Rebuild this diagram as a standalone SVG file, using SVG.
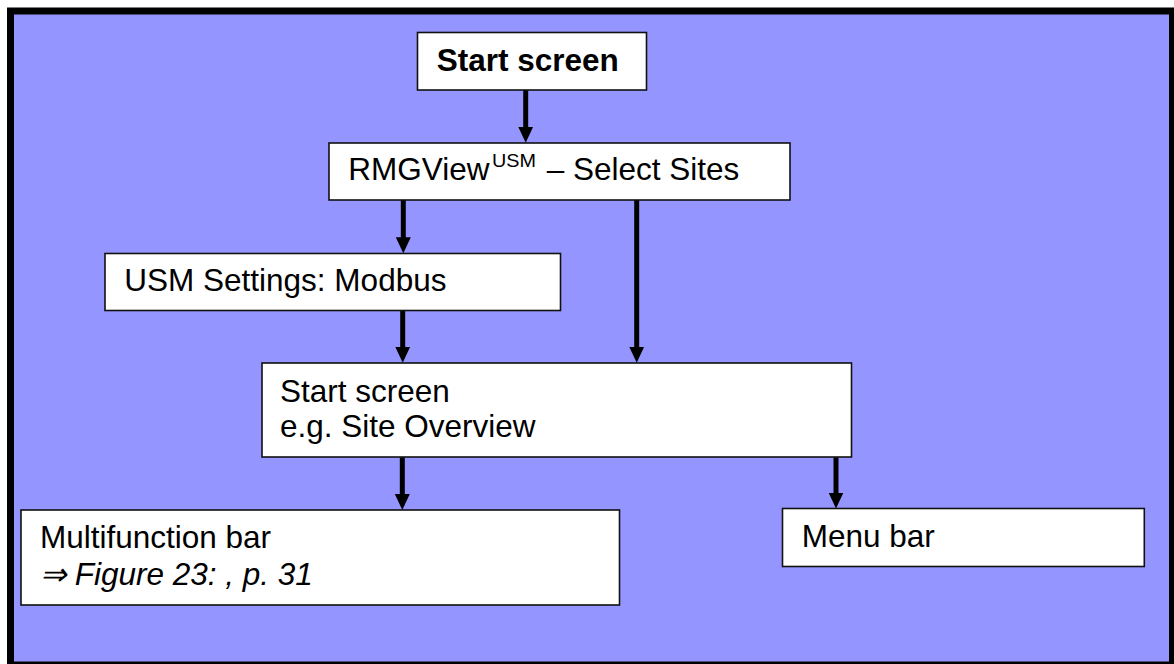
<svg xmlns="http://www.w3.org/2000/svg" width="1174" height="664" viewBox="0 0 1174 664">
  <style>
    .box { fill: #ffffff; stroke: #111111; stroke-width: 1.6; }
    .t { font-family: "Liberation Sans", Arial, sans-serif; font-size: 31.5px; fill: #000000; }
    .b { font-weight: bold; }
    .i { font-style: italic; }
    .c { stroke: #000000; stroke-width: 5; fill: none; marker-end: url(#ah); }
  </style>
  <defs>
    <marker id="ah" markerUnits="userSpaceOnUse" markerWidth="16" markerHeight="16" refX="6" refY="8" orient="auto" viewBox="0 0 16 16">
      <path d="M0,0.5 L16,8 L0,15.5 z" fill="#000000"/>
    </marker>
  </defs>
  <rect x="0" y="0" width="1174" height="664" fill="#ffffff"/>
  <rect id="frame" x="10.5" y="11" width="1162" height="654" fill="#9595FF" stroke="#000000" stroke-width="7"/>

  <g id="connectors">
    <line class="c" x1="525.7" y1="90" x2="525.7" y2="132.7"/>
    <line class="c" x1="403.3" y1="200" x2="403.3" y2="243.3"/>
    <line class="c" x1="636.7" y1="200" x2="636.7" y2="352.7"/>
    <line class="c" x1="402.7" y1="310.7" x2="402.7" y2="352.7"/>
    <line class="c" x1="402.3" y1="457.3" x2="402.3" y2="500"/>
    <line class="c" x1="836" y1="457.3" x2="836" y2="498.5"/>
  </g>

  <g id="node-start">
    <rect class="box" x="417.5" y="32.5" width="229" height="57.5"/>
    <text class="t b" x="436.7" y="70.7">Start screen</text>
  </g>

  <g id="node-rmgview">
    <rect class="box" x="329" y="143" width="461" height="57"/>
    <text class="t" x="348.3" y="180">RMGView<tspan x="492" y="167" font-size="18" textLength="44" lengthAdjust="spacingAndGlyphs">USM</tspan><tspan x="546.7" y="180">– Select Sites</tspan></text>
  </g>

  <g id="node-usm">
    <rect class="box" x="105" y="253.5" width="455.5" height="57"/>
    <text class="t" x="124.3" y="290.7">USM Settings: Modbus</text>
  </g>

  <g id="node-overview">
    <rect class="box" x="262" y="363" width="589.5" height="94"/>
    <text class="t" x="280" y="401.7">Start screen</text>
    <text class="t" x="280" y="437.3">e.g. Site Overview</text>
  </g>

  <g id="node-multifunction">
    <rect class="box" x="21" y="510" width="598.5" height="95"/>
    <text class="t" x="40" y="548.3">Multifunction bar</text>
    <text class="t i" x="40" y="585">⇒ Figure 23: , p. 31</text>
  </g>

  <g id="node-menu">
    <rect class="box" x="782.5" y="508.5" width="361.8" height="58"/>
    <text class="t" x="801.7" y="546.7">Menu bar</text>
  </g>
</svg>
